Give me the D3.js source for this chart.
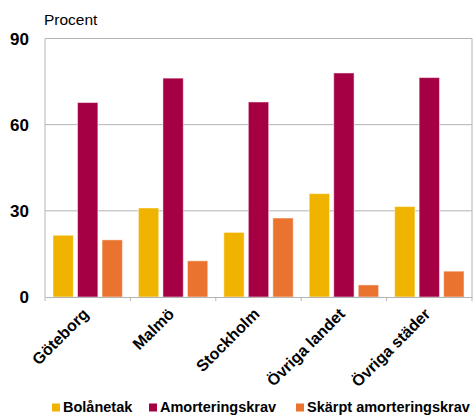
<!DOCTYPE html>
<html>
<head>
<meta charset="utf-8">
<script src="https://cdn.jsdelivr.net/npm/d3@7"></script>
<style>
  body { margin: 0; background: #fff; }
  text { font-family: "Liberation Sans", Arial, sans-serif; }
</style>
</head>
<body>
<div id="chart"></div>
<script>
// Data
var regions = ['Göteborg', 'Malmö', 'Stockholm', 'Övriga landet', 'Övriga städer'];
var seriesNames = ['Bolånetak', 'Amorteringskrav', 'Skärpt amorteringskrav'];
var bolanetak = [21.5, 31, 22.5, 36, 31.5];
var amortering = [67.7, 76.2, 67.9, 78, 76.4];
var skarpt = [19.9, 12.6, 27.5, 4.2, 9];
var yTicks = [0, 30, 60, 90];
var colors = ['#F0B400', '#A50044', '#EB7330'];

var width = 475, height = 415;
var margin = { top: 38.5, right: 3, bottom: 118, left: 45 };
var w = width - margin.left - margin.right;
var h = height - margin.top - margin.bottom;

var svg = d3.select("#chart").append("svg")
    .attr("width", width)
    .attr("height", height);

var g = svg.append("g")
    .attr("transform", "translate(" + margin.left + "," + margin.top + ")");

var x = d3.scaleBand().domain(regions).range([0, w]);
var x1 = d3.scaleBand().domain(seriesNames).range([8, x.bandwidth() - 8]).paddingInner(0.17);
var y = d3.scaleLinear().domain([0, 90]).range([h, 0]);

var data = regions.map(function(r, i) {
    return { region: r, values: [bolanetak[i], amortering[i], skarpt[i]] };
});

// gridlines
g.selectAll(".grid")
    .data(yTicks.filter(d => d > 0 && d < 90))
    .enter().append("line")
    .attr("x1", 0).attr("x2", w)
    .attr("y1", d => y(d)).attr("y2", d => y(d))
    .style("stroke", "#b4b4b4").style("stroke-width", 1);

// frame (left, top, right)
g.append("path")
    .attr("d", "M0," + h + "V0H" + w + "V" + h)
    .style("fill", "none").style("stroke", "#b4b4b4").style("stroke-width", 1);

// bars
var groups = g.selectAll(".grp")
    .data(data)
    .enter().append("g")
    .attr("transform", d => "translate(" + x(d.region) + ",0)");

groups.selectAll("rect")
    .data(d => d.values.map((v, i) => ({ key: seriesNames[i], value: v, i: i })))
    .enter().append("rect")
    .attr("x", d => x1(d.key))
    .attr("y", d => y(d.value))
    .attr("width", x1.bandwidth())
    .attr("height", d => h - y(d.value))
    .style("fill", d => colors[d.i])
    .style("stroke", "rgba(255,255,255,0.5)")
    .style("stroke-width", 1);

// x axis
var xAxis = g.append("g")
    .attr("transform", "translate(0," + h + ")")
    .call(d3.axisBottom(x).tickSize(0).tickFormat(""));
xAxis.select(".domain").style("stroke", "#b4b4b4");
xAxis.selectAll(".sep")
    .data(regions.concat(["end"]))
    .enter().append("line")
    .attr("x1", (d, i) => i < regions.length ? x(d) : w)
    .attr("x2", (d, i) => i < regions.length ? x(d) : w)
    .attr("y1", 0).attr("y2", 4)
    .style("stroke", "#b4b4b4");

g.selectAll(".xlabel")
    .data(regions)
    .enter().append("text")
    .attr("transform", d => "translate(" + (x(d) + x.bandwidth() / 2 + 2) + "," + (h + 18) + ") rotate(-45)")
    .attr("text-anchor", "end")
    .style("font-size", "16px")
    .style("font-weight", "bold")
    .text(d => d);

// y axis labels
g.selectAll(".ylabel")
    .data(yTicks)
    .enter().append("text")
    .attr("x", -16)
    .attr("y", d => y(d))
    .attr("dy", "0.36em")
    .attr("text-anchor", "end")
    .style("font-size", "17px")
    .style("font-weight", "bold")
    .text(d => d);

svg.append("text")
    .attr("x", 44)
    .attr("y", 25)
    .style("font-size", "15.5px")
    .text("Procent");

// legend
var legendX = [52, 149, 296];
var legend = svg.selectAll(".legend")
    .data(seriesNames)
    .enter().append("g")
    .attr("transform", (d, i) => "translate(" + legendX[i] + ",403.5)");
legend.append("rect")
    .attr("width", 8).attr("height", 8)
    .style("fill", (d, i) => colors[i]);
legend.append("text")
    .attr("x", 11).attr("y", 8.3)
    .style("font-size", "14.5px")
    .style("font-weight", "bold")
    .text(d => d);
</script>
</body>
</html>
